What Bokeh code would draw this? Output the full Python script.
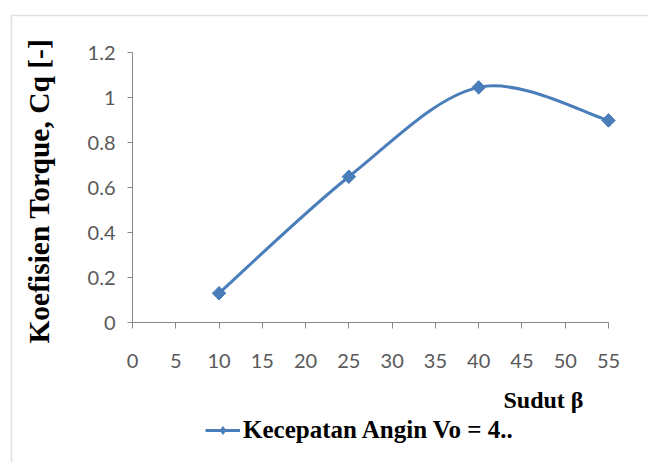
import numpy as np
from bokeh.plotting import figure
from bokeh.models import (FixedTicker, Legend, LegendItem, Label, Range1d,
                          BoxAnnotation)
from bokeh.embed import file_html
from bokeh.resources import INLINE

# ---- data ----
sudut = [10, 25, 40, 55]
cq = [0.13, 0.648, 1.045, 0.898]
series_label = "Kecepatan Angin Vo = 4.."
x_ticks = [0, 5, 10, 15, 20, 25, 30, 35, 40, 45, 50, 55]
y_ticks = [0, 0.2, 0.4, 0.6, 0.8, 1.0, 1.2]
y_tick_labels = ["0", "0.2", "0.4", "0.6", "0.8", "1", "1.2"]
x_title = "Sudut β"
y_title = "Koefisien  Torque, Cq [-]"

BLUE = "#4A7EBB"
AXIS = "#868686"
TICKTXT = "#595959"
SERIF = "Liberation Serif"

# ---- layout (screen px) ----
W, H = 648, 462            # canvas (= plot frame) size
OX, OY = 0, 0              # page position of the canvas
AX_X0, AX_Y0 = 132, 322    # page position of data (0, 0)
PX_X, PX_Y = 8.6545, 225.0 # px per data unit
xs0 = -(AX_X0 - OX) / PX_X
ys1 = (AX_Y0 - OY) / PX_Y


def xd(px):   # page x -> data x
    return xs0 + (px - OX) / PX_X


def yd(py):   # page y -> data y
    return ys1 - (py - OY) / PX_Y


p = figure(width=W, height=H, output_backend="svg", toolbar_location=None,
           x_range=Range1d(xs0, xs0 + W / PX_X),
           y_range=Range1d(ys1 - H / PX_Y, ys1),
           min_border=0)
p.outline_line_color = None
p.grid.visible = False
p.background_fill_color = "white"
p.border_fill_color = "white"

# chart-area border (left & top visible; right/bottom run off the page)
p.add_layout(BoxAnnotation(left=xd(11), top=yd(15), right=xd(OX + W + 20),
                           bottom=yd(OY + H + 20), fill_alpha=0,
                           line_color="#9a9a9a", line_width=1.5,
                           level="underlay"))

# Excel-style smoothed curve (Catmull-Rom -> cubic Bezier) from data
xs = np.array(sudut, dtype=float)
ys = np.array(cq, dtype=float)
n = len(xs)
x0, y0, x1, y1, cx0, cy0, cx1, cy1 = ([] for _ in range(8))
for i in range(n - 1):
    im1 = max(i - 1, 0)
    ip2 = min(i + 2, n - 1)
    x0.append(xs[i]); y0.append(ys[i]); x1.append(xs[i + 1]); y1.append(ys[i + 1])
    cx0.append(xs[i] + (xs[i + 1] - xs[im1]) / 6.0)
    cy0.append(ys[i] + (ys[i + 1] - ys[im1]) / 6.0)
    cx1.append(xs[i + 1] - (xs[ip2] - xs[i]) / 6.0)
    cy1.append(ys[i + 1] - (ys[ip2] - ys[i]) / 6.0)

curve = p.bezier(x0=x0, y0=y0, x1=x1, y1=y1, cx0=cx0, cy0=cy0, cx1=cx1, cy1=cy1,
                 line_color=BLUE, line_width=3)
# diamond markers (used for the legend swatch), covered by square-ish diamonds
dia = p.scatter(sudut, cq, marker="diamond", size=13,
                fill_color=BLUE, line_color=BLUE)
pts = p.scatter(sudut, cq, marker="square", angle=np.pi / 4, size=9.5,
                fill_color=BLUE, line_color=BLUE)

# axes (both pinned at 0, drawn inside the canvas)
p.xaxis.ticker = FixedTicker(ticks=x_ticks)
p.yaxis.ticker = FixedTicker(ticks=y_ticks)
p.yaxis.major_label_overrides = {t: l for t, l in zip(y_ticks, y_tick_labels)}
p.xaxis.fixed_location = 0
p.yaxis.fixed_location = 0
p.xaxis.bounds = (x_ticks[0], x_ticks[-1])
p.yaxis.bounds = (y_ticks[0], y_ticks[-1])
for ax in (p.xaxis, p.yaxis):
    ax.axis_line_color = AXIS
    ax.major_tick_line_color = AXIS
    ax.minor_tick_line_color = None
    ax.major_tick_in = 0
    ax.major_label_text_font = "Lato"
    ax.major_label_text_font_size = "20px"
    ax.major_label_text_color = TICKTXT
p.xaxis.major_tick_out = 6
p.yaxis.major_tick_out = 5
p.xaxis.major_label_standoff = 25
p.yaxis.major_label_standoff = 12

p.yaxis.axis_label = y_title
p.yaxis.axis_label_text_font = SERIF
p.yaxis.axis_label_text_font_style = "bold"
p.yaxis.axis_label_text_font_size = "29.5px"
p.yaxis.axis_label_text_color = "black"
p.yaxis.axis_label_standoff = 30

# x axis title, right side below tick labels
p.add_layout(Label(x=x_ticks[-1], y=0, x_offset=-25, y_offset=-77,
                   text=x_title, text_align="right", text_baseline="alphabetic",
                   text_font=SERIF, text_font_style="bold",
                   text_font_size="24px", text_color="black"))

legend = Legend(items=[LegendItem(label=series_label, renderers=[curve, dia])],
                location=(205 - OX, (OY + H) - 444), orientation="horizontal",
                label_text_font=SERIF, label_text_font_style="bold",
                label_text_font_size="25px", label_text_color="black",
                glyph_width=35, glyph_height=20, label_standoff=3,
                padding=4, margin=0, border_line_color=None,
                background_fill_alpha=0)
p.add_layout(legend, "center")

open("out.html", "w").write(file_html(p, INLINE))
